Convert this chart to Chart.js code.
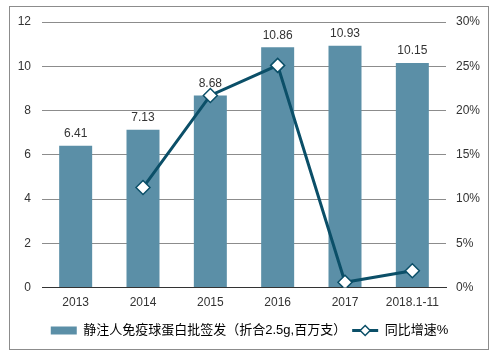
<!DOCTYPE html>
<html>
<head>
<meta charset="utf-8">
<script src="https://cdn.jsdelivr.net/npm/chart.js@4.4.0/dist/chart.umd.min.js"></script>
<style>
  html, body { margin: 0; padding: 0; background: #fff; }
  #wrap { width: 499px; height: 354px; position: relative; }
</style>
</head>
<body>
<div id="wrap"><canvas id="c" width="499" height="354"></canvas></div>
<script>
const years = ["2013", "2014", "2015", "2016", "2017", "2018.1-11"];
const batches = [6.41, 7.13, 8.68, 10.86, 10.93, 10.15];
const growth = [null, 11.3, 21.7, 25.1, 0.6, 1.9];
const leftTicks = [0, 2, 4, 6, 8, 10, 12];
const rightTicks = [0, 5, 10, 15, 20, 25, 30];

const BAR = "#5b8fa7";
const LINE = "#0b4f68";
const FONT = "'Liberation Sans', Arial, 'Noto Sans CJK SC', sans-serif";

// outer frame of the chart
const framePlugin = {
  id: "frame",
  beforeDraw(chart) {
    const ctx = chart.ctx;
    ctx.save();
    ctx.strokeStyle = "#8c8c8c";
    ctx.lineWidth = 1;
    ctx.strokeRect(9.5, 6.5, 479, 343);
    ctx.restore();
  },
};

// numbers above the bars
const valueLabels = {
  id: "valueLabels",
  afterDatasetsDraw(chart) {
    const ctx = chart.ctx;
    const meta = chart.getDatasetMeta(1);
    ctx.save();
    ctx.font = "12px " + FONT;
    ctx.fillStyle = "#333";
    ctx.textAlign = "center";
    ctx.textBaseline = "bottom";
    meta.data.forEach((bar, i) => {
      ctx.fillText(batches[i].toFixed(2), bar.x, bar.y - 6);
    });
    ctx.restore();
  },
};

// diamond on the line legend item
const legendDiamond = {
  id: "legendDiamond",
  afterDraw(chart) {
    const lg = chart.legend;
    if (!lg || !lg.legendHitBoxes || lg.legendHitBoxes.length < 2) return;
    const hb = lg.legendHitBoxes[1];
    const bw = lg.options.labels.pointStyleWidth;
    const cx = hb.left + bw / 2;
    const cy = hb.top + hb.height / 2;
    const ctx = chart.ctx;
    ctx.save();
    ctx.beginPath();
    ctx.moveTo(cx, cy - 5);
    ctx.lineTo(cx + 5, cy);
    ctx.lineTo(cx, cy + 5);
    ctx.lineTo(cx - 5, cy);
    ctx.closePath();
    ctx.fillStyle = "#fff";
    ctx.fill();
    ctx.strokeStyle = LINE;
    ctx.lineWidth = 1.5;
    ctx.stroke();
    ctx.restore();
  },
};

new Chart(document.getElementById("c"), {
  data: {
    labels: years,
    datasets: [
      {
        type: "line",
        label: "同比增速%",
        data: growth,
        yAxisID: "y1",
        borderColor: LINE,
        borderWidth: 3,
        pointStyle: "rectRot",
        pointRadius: 7,
        pointBackgroundColor: "#fff",
        pointBorderColor: LINE,
        pointBorderWidth: 1.5,
        spanGaps: false,
        order: 0,
        tension: 0,
      },
      {
        type: "bar",
        label: "静注人免疫球蛋白批签发（折合2.5g,百万支）",
        data: batches,
        yAxisID: "y",
        backgroundColor: BAR,
        categoryPercentage: 1,
        barPercentage: 0.49,
        order: 1,
      },
    ],
  },
  options: {
    responsive: false,
    animation: false,
    layout: { padding: { left: 10, right: 10, top: 22, bottom: 7 } },
    scales: {
      x: {
        grid: { display: false, drawTicks: false },
        border: { color: "#333", width: 1 },
        ticks: { color: "#333", font: { size: 12, family: FONT }, padding: 8, maxRotation: 0 },
      },
      y: {
        position: "left",
        min: 0, max: 12,
        afterBuildTicks: (ax) => { ax.ticks = leftTicks.map((v) => ({ value: v })); },
        afterFit: (ax) => { ax.width = 32; },
        grid: { color: "#8c8c8c", drawTicks: false },
        border: { display: false },
        ticks: { color: "#333", font: { size: 12, family: FONT }, padding: 11 },
      },
      y1: {
        position: "right",
        min: 0, max: 30,
        afterBuildTicks: (ax) => { ax.ticks = rightTicks.map((v) => ({ value: v })); },
        afterFit: (ax) => { ax.width = 43; },
        grid: { display: false, drawTicks: false },
        border: { display: false },
        ticks: { color: "#333", font: { size: 12, family: FONT }, padding: 10, callback: (v) => v + "%" },
      },
    },
    plugins: {
      legend: {
        position: "bottom",
        labels: {
          usePointStyle: true,
          pointStyleWidth: 26,
          boxHeight: 8,
          color: "#333",
          font: { size: 13, family: FONT },
          padding: 6,
          sort: (a, b) => b.datasetIndex - a.datasetIndex,
          generateLabels: (chart) => chart.data.datasets.map((ds, i) => ({
            text: ds.label,
            datasetIndex: i,
            fillStyle: ds.type === "bar" ? BAR : LINE,
            strokeStyle: ds.type === "bar" ? BAR : LINE,
            lineWidth: ds.type === "bar" ? 0 : 3,
            pointStyle: ds.type === "bar" ? "rect" : "line",
          })),
        },
      },
      tooltip: { enabled: false },
    },
  },
  plugins: [framePlugin, valueLabels, legendDiamond],
});
</script>
</body>
</html>
